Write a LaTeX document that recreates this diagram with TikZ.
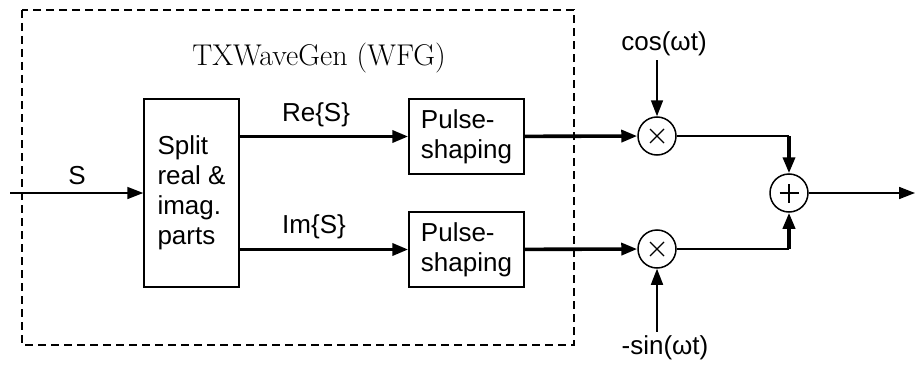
\documentclass[tikz,border=0pt]{standalone}
\usepackage{fontspec}
\setsansfont{Liberation Sans}
\usetikzlibrary{arrows.meta}

\tikzset{
  blk/.style={draw, line width=1.5pt, align=left, inner sep=0pt,
    font=\sffamily\fontsize{26}{30}\selectfont},
  mixer/.style={draw, circle, line width=1.5pt, minimum size=38pt, inner sep=0pt},
  sig/.style={->, line width=3.6pt},
  wire/.style={line width=1.7pt},
  lbl/.style={font=\sffamily\fontsize{26}{30}\selectfont},
}

\begin{document}
\begin{tikzpicture}[x=1pt, y=1pt, >={Triangle[length=16pt,width=12pt]}]
  \useasboundingbox (0,0) rectangle (915,365);

  % wave generator frame
  \draw[line width=1.6pt, dash pattern=on 8pt off 5pt] (22,355) rectangle (574,20);
  \node[font=\fontsize{30}{34}\selectfont] (title) at (319,307) {TXWaveGen (WFG)};

  % blocks
  \node[blk, minimum width=95pt, minimum height=188pt] (split) at (191.5,172)
    {Split\\real \&\\imag.\\parts};
  \node[blk, minimum width=115pt, minimum height=75pt] (pulseRe) at (466.5,228.5)
    {Pulse-\\shaping};
  \node[blk, minimum width=115pt, minimum height=75pt] (pulseIm) at (466.5,115.5)
    {Pulse-\\shaping};

  \node[mixer] (multRe) at (657,229) {};
  \node[mixer] (multIm) at (657,116) {};
  \node[mixer] (adder) at (789,172) {};
  \foreach \m in {multRe, multIm} {
    \draw[line width=1.2pt] (\m.center) +(-7,-7) -- +(7,7) +(-7,7) -- +(7,-7);
  }
  \draw[line width=1.2pt] (adder.center) +(-9.5,0) -- +(9.5,0) +(0,-9.5) -- +(0,9.5);

  \coordinate (in) at (10,172);
  \coordinate (out) at (915,172);
  \node[lbl, inner sep=4pt] (cosw) at (664,321) {cos(ωt)};
  \node[lbl, inner sep=4pt] (sinw) at (665,17) {-sin(ωt)};

  % labels
  \node[lbl] (s) at (77,189) {S};
  \node[lbl] (reS) at (316,250) {Re\{S\}};
  \node[lbl] (imS) at (314,138) {Im\{S\}};

  % connections
  \draw[->, wire] (in) -- (split);
  \draw[sig] (split.east |- pulseRe) -- (pulseRe.west);
  \draw[sig] (split.east |- pulseIm) -- (pulseIm.west);
  \draw[sig] (pulseRe) -- (multRe);
  \draw[sig] (pulseIm) -- (multIm);
  \draw[->, wire] (cosw.south -| multRe) -- (multRe.north);
  \draw[->, wire] (sinw.north -| multIm) -- (multIm.south);
  \draw[wire] (multRe.east) -- (adder |- multRe);
  \draw[wire] (multIm.east) -- (adder |- multIm);
  \draw[sig] (adder |- multRe) -- (adder.north);
  \draw[sig] (adder |- multIm) -- (adder.south);
  \draw[->, wire] (adder) -- (out);
\end{tikzpicture}
\end{document}
